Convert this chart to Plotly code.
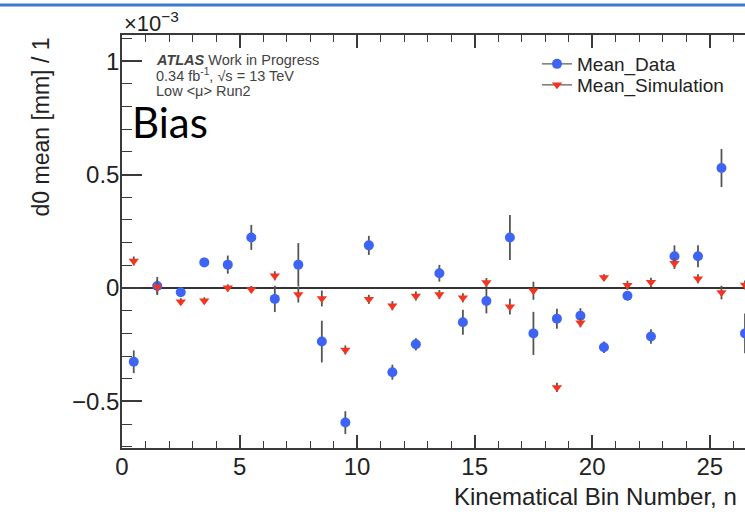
import plotly.graph_objects as go

# ---- data (values in units of 1e-3 mm) ----
bin_centers = [i + 0.5 for i in range(27)]
data_mean = [-0.325, 0.009, -0.019, 0.113, 0.103, 0.223, -0.048, 0.103, -0.236, -0.593,
             0.188, -0.371, -0.248, 0.065, -0.151, -0.057, 0.223, -0.200, -0.135, -0.122,
             -0.261, -0.034, -0.214, 0.140, 0.140, 0.529, -0.200]
data_err = [0.050, 0.040, 0.020, 0.020, 0.040, 0.055, 0.058, 0.095, 0.092, 0.050,
            0.042, 0.033, 0.027, 0.037, 0.055, 0.055, 0.099, 0.095, 0.044, 0.033,
            0.025, 0.020, 0.032, 0.048, 0.048, 0.084, 0.088]
sim_mean = [0.119, 0.005, -0.060, -0.056, 0.001, -0.006, 0.054, -0.029, -0.046, -0.273,
            -0.050, -0.078, -0.035, -0.029, -0.043, 0.024, -0.082, -0.012, -0.438, -0.153,
            0.046, 0.012, 0.025, 0.109, 0.041, -0.020, 0.013]
sim_err = [0.020, 0.030, 0.015, 0.015, 0.015, 0.015, 0.020, 0.035, 0.035, 0.020,
           0.020, 0.020, 0.020, 0.020, 0.020, 0.020, 0.035, 0.040, 0.020, 0.020,
           0.015, 0.020, 0.020, 0.025, 0.020, 0.030, 0.020]

x_major_ticks = [0, 5, 10, 15, 20, 25]
y_major_ticks = [-0.5, 0, 0.5, 1]
y_tick_text = ["\u22120.5", "0", "0.5", "1"]

BLUE = "#3d64f5"
RED = "#f5341f"
ERR = "#555555"
AX = "#3a3a3a"
FONT = "Liberation Sans, Arial, sans-serif"

W, H = 745, 523
L, R, T, B = 122, 0, 35, 75
PW, PH = W - L - R, H - T - B

def px(xp):
    return (xp - L) / PW

def py(yp):
    return (H - B - yp) / PH

fig = go.Figure()

fig.add_trace(go.Scatter(
    x=bin_centers, y=data_mean, mode="markers", name="Mean_Data", showlegend=False,
    marker=dict(symbol="circle", size=10, color=BLUE),
    error_y=dict(type="data", array=data_err, color=ERR, thickness=1.8, width=0),
))
fig.add_trace(go.Scatter(
    x=bin_centers, y=sim_mean, mode="markers", name="Mean_Simulation", showlegend=False,
    marker=dict(symbol="triangle-down", size=9, color=RED),
    error_y=dict(type="data", array=sim_err, color=ERR, thickness=1.8, width=0),
))
# legend entries (line + marker glyph as in ROOT "lep" style)
fig.add_trace(go.Scatter(
    x=[None], y=[None], mode="lines+markers", name="Mean_Data", legend="legend",
    marker=dict(symbol="circle", size=10, color=BLUE), line=dict(color="#777777", width=1.5),
))
fig.add_trace(go.Scatter(
    x=[None], y=[None], mode="lines+markers", name="Mean_Simulation", legend="legend2",
    marker=dict(symbol="triangle-down", size=9, color=RED), line=dict(color="#777777", width=1.5),
))

leg_common = dict(xanchor="left", yanchor="top", bgcolor="rgba(0,0,0,0)",
                  font=dict(size=19, family=FONT, color="#222222"), itemwidth=30)

fig.update_layout(
    width=W, height=H,
    margin=dict(l=L, r=R, t=T, b=B, pad=0),
    paper_bgcolor="white", plot_bgcolor="white",
    font=dict(family=FONT, color="#222222"),
    showlegend=True,
    legend=dict(x=px(537), y=py(45), **leg_common),
    legend2=dict(x=px(537), y=py(66), **leg_common),
    xaxis=dict(
        range=[0, 26.5], showgrid=False, zeroline=False,
        showline=True, linecolor=AX, linewidth=1.5, mirror="ticks",
        ticks="inside", ticklen=13, tickwidth=1.5, tickcolor=AX,
        tickvals=x_major_ticks, ticktext=[str(v) for v in x_major_ticks],
        tickfont=dict(size=24, family=FONT, color="#222222"),
        ticklabelstandoff=-4,
        minor=dict(dtick=1, ticks="inside", ticklen=7, tickwidth=1.2, tickcolor=AX),
    ),
    yaxis=dict(
        range=[-0.705, 1.115], showgrid=False,
        zeroline=True, zerolinecolor="#333333", zerolinewidth=2.2,
        showline=True, linecolor=AX, linewidth=1.5, mirror=False,
        ticks="inside", ticklen=20, tickwidth=1.5, tickcolor=AX,
        tickvals=y_major_ticks, ticktext=y_tick_text,
        tickfont=dict(size=24, family=FONT, color="#222222"),
        ticklabelstandoff=-4,
        minor=dict(dtick=0.1, ticks="inside", ticklen=10, tickwidth=1.2, tickcolor=AX),
    ),
    yaxis2=dict(
        overlaying="y", side="right", range=[-0.705, 1.115], showgrid=False, zeroline=False,
        showline=False, ticks="inside", ticklen=8, tickwidth=1.5, tickcolor=AX,
        tickvals=y_major_ticks, showticklabels=False,
    ),
)

annotations = [
    # y axis title (ROOT style, right-aligned at top of axis)
    dict(text="d0 mean [mm] / 1", textangle=-90, x=px(40), y=py(36), xref="paper", yref="paper",
         xanchor="center", yanchor="top", showarrow=False,
         font=dict(size=23, family=FONT, color="#222222")),
    # exponent
    dict(text="\u00d710<sup>\u22123</sup>", x=px(122), y=py(38), xref="paper", yref="paper",
         xanchor="left", yanchor="bottom", showarrow=False,
         font=dict(size=22, family=FONT, color="#222222")),
    # x axis title
    dict(text="Kinematical Bin Number, n", x=px(452), y=py(497), xref="paper", yref="paper",
         xanchor="left", yanchor="middle", showarrow=False,
         font=dict(size=24, family=FONT, color="#222222")),
    # ATLAS label
    dict(text="<b><i>ATLAS</i></b> Work in Progress", x=px(154), y=py(60), xref="paper", yref="paper",
         xanchor="left", yanchor="middle", showarrow=False,
         font=dict(size=14.5, family=FONT, color="#444444")),
    dict(text="0.34 fb<sup>-1</sup>, \u221as = 13 TeV", x=px(154), y=py(75), xref="paper", yref="paper",
         xanchor="left", yanchor="middle", showarrow=False,
         font=dict(size=14.5, family=FONT, color="#444444")),
    dict(text="Low &lt;\u03bc&gt; Run2", x=px(154), y=py(91), xref="paper", yref="paper",
         xanchor="left", yanchor="middle", showarrow=False,
         font=dict(size=14.5, family=FONT, color="#444444")),
    # slide overlay text
    dict(text="Bias", x=px(130), y=py(122), xref="paper", yref="paper",
         xanchor="left", yanchor="middle", showarrow=False,
         font=dict(size=42, family="Lato, Carlito, sans-serif", color="#000000")),
]
fig.update_layout(annotations=annotations)

# blue slide border line at top
fig.add_shape(type="line", xref="paper", yref="paper", x0=px(0), x1=px(W), y0=py(5), y1=py(5),
              line=dict(color="#3b7bd0", width=3))

fig.write_html("out.html")
